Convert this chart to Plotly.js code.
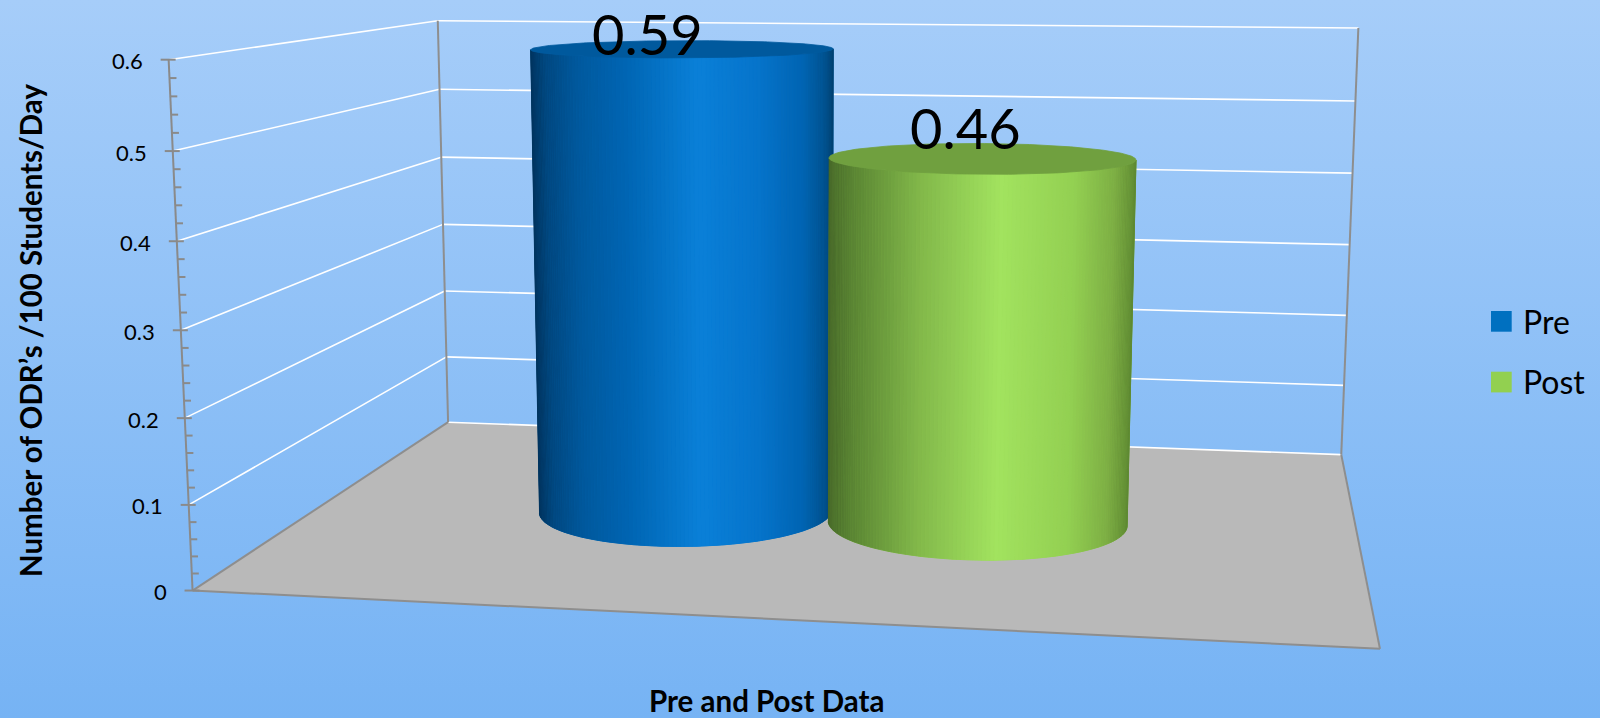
<!DOCTYPE html>
<html>
<head>
<meta charset="utf-8">
<script src="https://cdn.plot.ly/plotly-3.0.1.min.js"></script>
<style>
  html, body { margin: 0; padding: 0; width: 1600px; height: 718px; overflow: hidden;
    background: linear-gradient(to bottom, #a6cdf9 0%, #76b3f4 100%); }
  #chart { width: 1600px; height: 718px; }
</style>
</head>
<body>
<div id="chart"></div>
<script>
// ---- chart data ----
const categories = ['Pre and Post Data'];
const seriesNames = ['Pre', 'Post'];
const seriesValues = [0.59, 0.46];
const seriesColors = ['#0070c0', '#92d050'];
const valueTicks = [0, 0.1, 0.2, 0.3, 0.4, 0.5, 0.6];
const tickLabels = ['0', '0.1', '0.2', '0.3', '0.4', '0.5', '0.6'];
const valueMax = 0.6;
const yTitle = 'Number of ODR\u2019s /100 Students/Day';
const xTitle = categories[0];

// ---- 3D box: screen anchors of the plot cube (X across, Y value, Z depth) ----
const boxAnchors = [
  // front-left edge (X=0, Z=0)
  [0, 0.0, 0, 192.7, 591], [0, 0.1, 0, 189, 504.3], [0, 0.2, 0, 185, 417.7], [0, 0.3, 0, 181, 330.7],
  [0, 0.4, 0, 176.7, 241], [0, 0.5, 0, 171.7, 151], [0, 0.6, 0, 169, 60],
  // back-left edge (X=0, Z=1)
  [0, 0.0, 1, 448, 422.7], [0, 0.1, 1, 446.3, 356.7], [0, 0.2, 1, 444.6, 291], [0, 0.3, 1, 443, 224.3],
  [0, 0.4, 1, 441.3, 156.7], [0, 0.5, 1, 439.6, 89.3], [0, 0.6, 1, 438, 21],
  // back-right edge (X=1, Z=1)
  [1, 0.0, 1, 1341, 454.5], [1, 0.1, 1, 1344, 385.5], [1, 0.2, 1, 1347, 315.2], [1, 0.3, 1, 1349.7, 244.5],
  [1, 0.4, 1, 1352.7, 173], [1, 0.5, 1, 1355.7, 101], [1, 0.6, 1, 1358, 28.2],
  // front-right floor corner
  [1, 0.0, 0, 1380, 649]
];

// least-squares pinhole camera (DLT) from the anchors
function fitCamera(pts) {
  const S = 1000, n = 11;
  const N = [...Array(n)].map(() => Array(n + 1).fill(0));
  const addRow = (row, rhs) => {
    for (let i = 0; i < n; i++) {
      for (let j = 0; j < n; j++) N[i][j] += row[i] * row[j];
      N[i][n] += row[i] * rhs;
    }
  };
  pts.forEach(([X, Y, Z, u, v]) => {
    u /= S; v /= S;
    addRow([X, Y, Z, 1, 0, 0, 0, 0, -u * X, -u * Y, -u * Z], u);
    addRow([0, 0, 0, 0, X, Y, Z, 1, -v * X, -v * Y, -v * Z], v);
  });
  for (let c = 0; c < n; c++) {
    let p = c;
    for (let r = c + 1; r < n; r++) if (Math.abs(N[r][c]) > Math.abs(N[p][c])) p = r;
    [N[c], N[p]] = [N[p], N[c]];
    for (let r = 0; r < n; r++) if (r !== c) {
      const f = N[r][c] / N[c][c];
      for (let k = c; k <= n; k++) N[r][k] -= f * N[c][k];
    }
  }
  const p = N.map((row, i) => row[n] / row[i]);
  return { S, P: [[p[0], p[1], p[2], p[3]], [p[4], p[5], p[6], p[7]], [p[8], p[9], p[10], 1]] };
}
const CAM = fitCamera(boxAnchors);

function proj(X, Y, Z) {
  const P = CAM.P;
  const w = P[2][0] * X + P[2][1] * Y + P[2][2] * Z + P[2][3];
  return [CAM.S * (P[0][0] * X + P[0][1] * Y + P[0][2] * Z + P[0][3]) / w,
          CAM.S * (P[1][0] * X + P[1][1] * Y + P[1][2] * Z + P[1][3]) / w];
}

// camera centre in world units (solves M*C = -p4)
function det3(m) {
  return m[0][0] * (m[1][1] * m[2][2] - m[1][2] * m[2][1])
       - m[0][1] * (m[1][0] * m[2][2] - m[1][2] * m[2][0])
       + m[0][2] * (m[1][0] * m[2][1] - m[1][1] * m[2][0]);
}
const EYE = (() => {
  const P = CAM.P;
  const M = P.map(r => r.slice(0, 3));
  const b = P.map(r => -r[3]);
  const D = det3(M);
  return [0, 1, 2].map(k => det3(M.map((r, i) => r.map((v, j) => (j === k ? b[i] : v)))) / D);
})();

// ---- helpers ----
function hexRgb(h) { return [1, 3, 5].map(i => parseInt(h.substr(i, 2), 16)); }
function ramp(stops, t) {
  t = Math.max(0, Math.min(1, t));
  for (let i = 1; i < stops.length; i++) {
    if (t <= stops[i][0]) {
      const a = stops[i - 1], b = stops[i];
      const f = (t - a[0]) / (b[0] - a[0] || 1);
      const ca = hexRgb(a[1]), cb = hexRgb(b[1]);
      return 'rgb(' + ca.map((c, k) => Math.round(c + (cb[k] - c) * f)).join(',') + ')';
    }
  }
  return stops[stops.length - 1][1];
}
function polygon(pts, fill, lineColor, lw) {
  return {
    type: 'scatter', mode: 'lines', x: pts.map(p => p[0]), y: pts.map(p => p[1]),
    fill: 'toself', fillcolor: fill, line: { color: lineColor || fill, width: lw == null ? 0.8 : lw },
    hoverinfo: 'skip', showlegend: false
  };
}
function segments(list, color, width) {
  const x = [], y = [];
  list.forEach(([a, b]) => { x.push(a[0], b[0], null); y.push(a[1], b[1], null); });
  return { type: 'scatter', mode: 'lines', x, y, line: { color, width }, hoverinfo: 'skip', showlegend: false };
}

const traces = [];

// ---- floor, walls, gridlines ----
traces.push(polygon([proj(0, 0, 0), proj(1, 0, 0), proj(1, 0, 1), proj(0, 0, 1)], '#b9b9b9', '#b9b9b9', 0));

const gridSegs = [];
valueTicks.forEach(v => {
  gridSegs.push([proj(0, v, 1), proj(1, v, 1)]);          // back wall
  if (v > 0) gridSegs.push([proj(0, v, 0), proj(0, v, 1)]); // side wall
});
traces.push(segments(gridSegs, '#ffffff', 1.6));

const edgeSegs = [
  [proj(0, 0, 0), proj(1, 0, 0)],
  [proj(1, 0, 0), proj(1, 0, 1)],
  [proj(0, 0, 0), proj(0, 0, 1)],
  [proj(0, 0, 1), proj(0, valueMax, 1)],
  [proj(1, 0, 1), proj(1, valueMax, 1)]
];
traces.push(segments(edgeSegs, '#8e8e8e', 2));

// value axis with major / minor ticks
const axisSegs = [[proj(0, 0, 0), proj(0, valueMax, 0)]];
valueTicks.forEach(v => { const p = proj(0, v, 0); axisSegs.push([[p[0] - 8, p[1]], [p[0] + 7, p[1]]]); });
for (let k = 0; k < valueTicks.length - 1; k++) {
  const step = (valueTicks[k + 1] - valueTicks[k]) / 5;
  for (let m = 1; m < 5; m++) {
    const p = proj(0, valueTicks[k] + m * step, 0);
    axisSegs.push([p, [p[0] + 7, p[1]]]);
  }
}
traces.push(segments(axisSegs, '#8a8a8a', 2));

// ---- cylinders ----
const gapWidth = 1.5;                      // gap as a fraction of one column
const colW = 1 / (seriesValues.length + gapWidth);
const radiusX = colW / 2;
const depthCentre = 0.5, radiusZ = 0.2;

const bodyStops = [
  [
    [0, '#00345e'], [0.05, '#00477f'], [0.15, '#00589c'], [0.32, '#0066b4'],
    [0.55, '#0a80d8'], [0.75, '#0674cb'], [0.9, '#0064b2'], [0.97, '#00528f'], [1, '#004272']
  ],
  [
    [0, '#476829'], [0.08, '#5a8533'], [0.3, '#82b84a'], [0.56, '#a2e35f'],
    [0.8, '#93d052'], [0.93, '#7dae44'], [1, '#5f8a33']
  ]
];
const topColors = ['#00599d', '#70a03f'];

const labelAnn = [];
seriesValues.forEach((val, s) => {
  const cx = colW * (gapWidth / 2 + 0.5 + s);
  const K = 240;
  const ang = i => 2 * Math.PI * i / K;
  const pt = (i, y) => proj(cx + radiusX * Math.cos(ang(i)), y, depthCentre + radiusZ * Math.sin(ang(i)));
  const visible = i => {
    const t = ang(i);
    const px = cx + radiusX * Math.cos(t), pz = depthCentre + radiusZ * Math.sin(t);
    return (Math.cos(t) / radiusX) * (EYE[0] - px) + (Math.sin(t) / radiusZ) * (EYE[2] - pz) > 0;
  };
  let start = 0;
  for (let i = 0; i < K; i++) if (visible(i) && !visible((i - 1 + K) % K)) { start = i; break; }
  const arc = [];
  for (let k = 0; k <= K; k++) { const i = (start + k) % K; if (!visible(i)) break; arc.push(i); }

  const bottom = arc.map(i => pt(i, 0)), top = arc.map(i => pt(i, val));
  const xs = top.map(p => p[0]);
  const xL = Math.min(...xs), xR = Math.max(...xs);

  // body silhouette, then shaded strips
  traces.push(polygon(bottom.concat(top.slice().reverse()), ramp(bodyStops[s], 0.5)));
  for (let k = 0; k < arc.length - 1; k++) {
    const u = ((top[k][0] + top[k + 1][0]) / 2 - xL) / (xR - xL);
    const c = ramp(bodyStops[s], u);
    traces.push(polygon([bottom[k], bottom[k + 1], top[k + 1], top[k]], c, c, 0.9));
  }
  // top cap
  const cap = [];
  for (let i = 0; i <= K; i++) cap.push(pt(i, val));
  traces.push(polygon(cap, topColors[s], topColors[s], 0.8));

  // value label: horizontally over the cap's front rim, vertically at the value's back-wall height
  const front = proj(cx, val, depthCentre - radiusZ);
  const back = proj(cx, val, 1);
  labelAnn.push({
    x: front[0], y: back[1] + 3, xref: 'x', yref: 'y', text: String(val), showarrow: false,
    xanchor: 'center', yanchor: 'middle', borderpad: 0,
    font: { family: 'Lato, sans-serif', size: 56, color: '#000000' }
  });
});

// ---- tick labels ----
const tickAnn = valueTicks.map((v, i) => {
  const p = proj(0, v, 0);
  return {
    x: p[0] - 24, y: p[1] + 1, xref: 'x', yref: 'y', text: tickLabels[i], showarrow: false,
    xanchor: 'right', yanchor: 'middle', font: { family: 'Lato, sans-serif', size: 22, color: '#000000' }
  };
});

// ---- legend ----
const legendShapes = [], legendAnn = [];
seriesNames.forEach((nm, i) => {
  const y0 = 311 + i * 60.7;
  legendShapes.push({
    type: 'rect', xref: 'x', yref: 'y', x0: 1491, x1: 1511.7, y0: y0, y1: y0 + 20.7,
    fillcolor: seriesColors[i], line: { width: 0 }
  });
  legendAnn.push({
    x: 1521, y: y0 + 10, xref: 'x', yref: 'y', text: nm, showarrow: false, xanchor: 'left', yanchor: 'middle',
    font: { family: 'Lato, sans-serif', size: 32, color: '#000000' }
  });
});

// ---- axis titles ----
const titleAnn = [
  { x: 30, y: 331, xref: 'x', yref: 'y', text: '<b>' + yTitle + '</b>', textangle: -90, showarrow: false,
    xanchor: 'center', yanchor: 'middle', font: { family: 'Lato, sans-serif', size: 29.5, color: '#000000' } },
  { x: 766, y: 700, xref: 'x', yref: 'y', text: '<b>' + xTitle + '</b>', showarrow: false,
    xanchor: 'center', yanchor: 'middle', font: { family: 'Lato, sans-serif', size: 29.5, color: '#000000' } }
];

const layout = {
  width: 1600, height: 718,
  margin: { l: 0, r: 0, t: 0, b: 0, pad: 0 },
  paper_bgcolor: 'rgba(0,0,0,0)', plot_bgcolor: 'rgba(0,0,0,0)',
  xaxis: { range: [0, 1600], visible: false, fixedrange: true },
  yaxis: { range: [718, 0], visible: false, fixedrange: true },
  showlegend: false,
  shapes: legendShapes,
  annotations: tickAnn.concat(labelAnn, legendAnn, titleAnn)
};

Plotly.newPlot('chart', traces, layout, { displayModeBar: false, staticPlot: true });
</script>
</body>
</html>
